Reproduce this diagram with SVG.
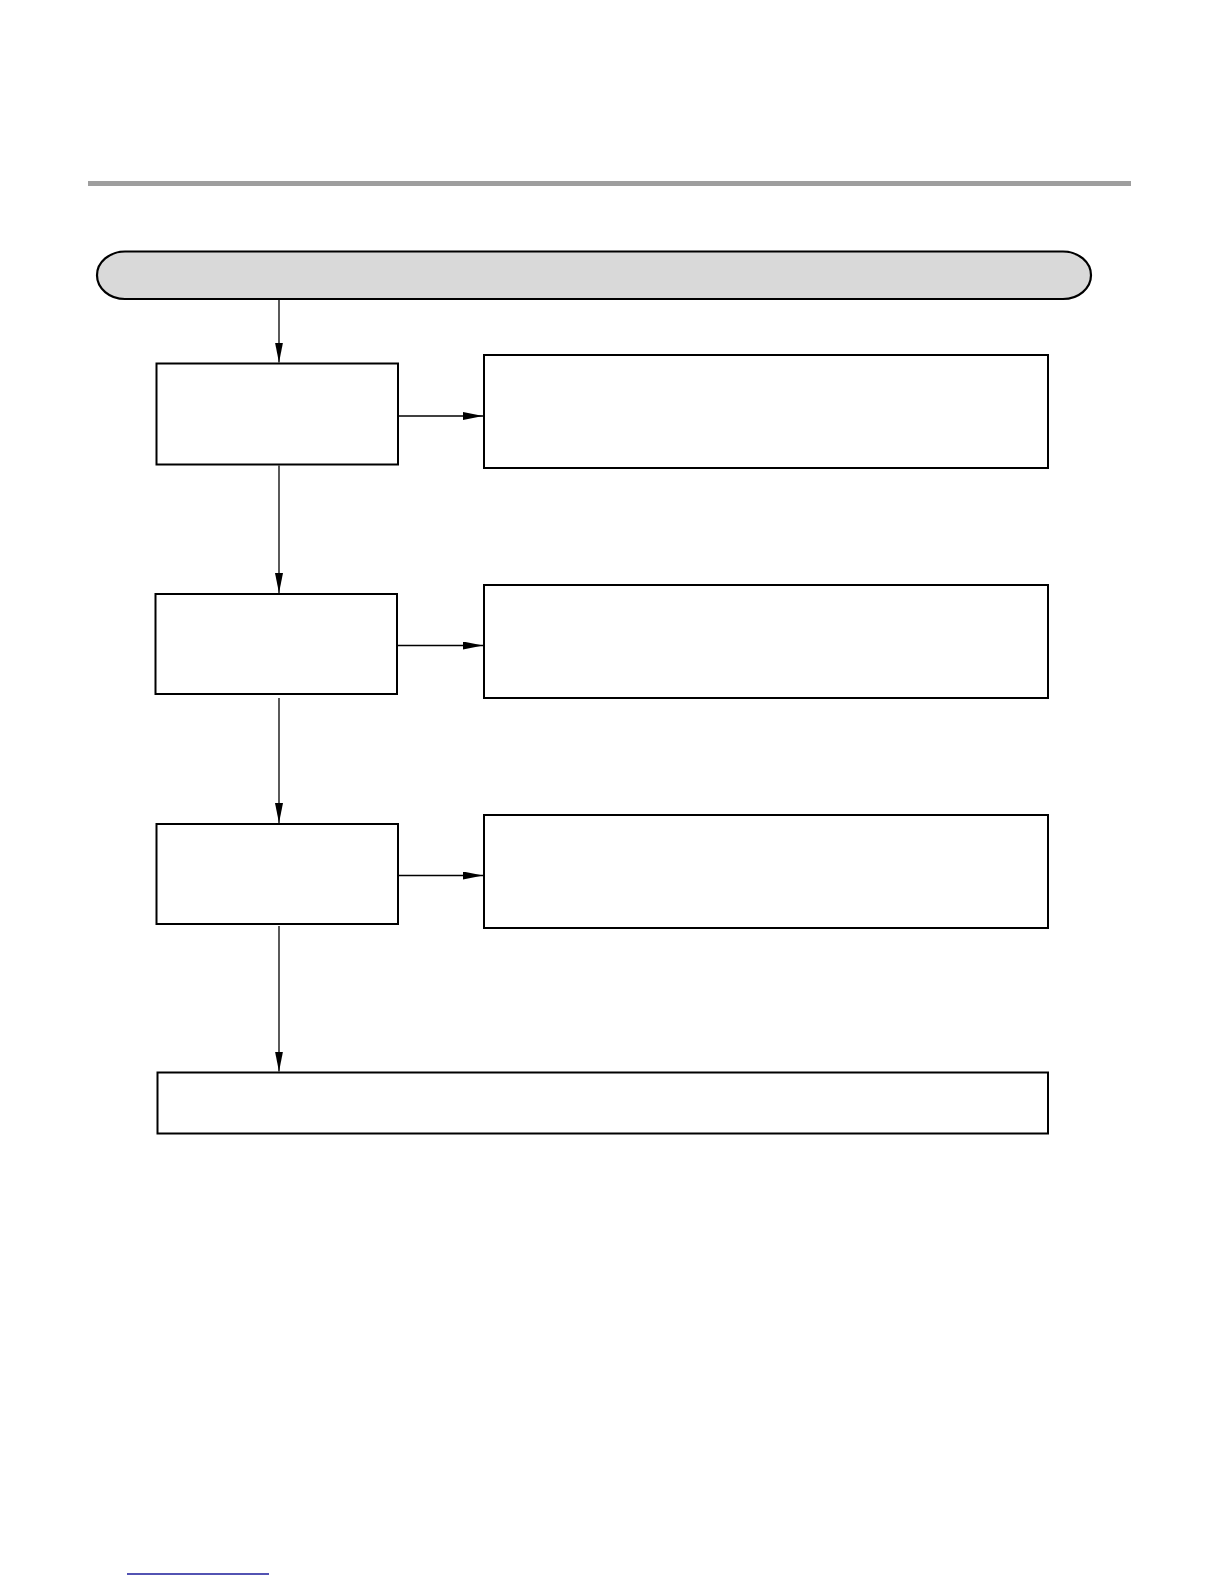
<svg xmlns="http://www.w3.org/2000/svg" width="1224" height="1584" viewBox="0 0 1224 1584">
  <style>
    .box { fill: #ffffff; stroke: #000000; stroke-width: 2; }
    .pill { fill: #d9d9d9; stroke: #000000; stroke-width: 2.2; }
    .conn { fill: none; stroke: #000000; stroke-width: 1.3; }
  </style>
  <defs>
    <marker id="arrow" markerWidth="20" markerHeight="8" refX="20" refY="4" orient="auto" markerUnits="userSpaceOnUse">
      <path d="M0,0 L20,4 L0,8 Z" fill="#000000"/>
    </marker>
  </defs>
  <rect width="1224" height="1584" fill="#ffffff"/>
  <rect id="header-rule" x="88" y="181" width="1043" height="5" fill="#9e9e9e"/>

  <g id="start">
    <rect class="pill" x="97" y="251.5" width="994" height="47.5" rx="28" ry="23.75"/>
  </g>
  <g id="step1">
    <rect class="box" x="156.5" y="363.5" width="241.5" height="101"/>
  </g>
  <g id="result1">
    <rect class="box" x="484" y="355" width="564" height="113"/>
  </g>
  <g id="step2">
    <rect class="box" x="155.5" y="594" width="241.5" height="100"/>
  </g>
  <g id="result2">
    <rect class="box" x="484" y="585" width="564" height="113"/>
  </g>
  <g id="step3">
    <rect class="box" x="156.5" y="824" width="241.5" height="100"/>
  </g>
  <g id="result3">
    <rect class="box" x="484" y="815" width="564" height="113"/>
  </g>
  <g id="end">
    <rect class="box" x="157.5" y="1072.5" width="890.5" height="61"/>
  </g>

  <g id="connectors">
    <line class="conn" x1="279" y1="300" x2="279" y2="362.5" marker-end="url(#arrow)"/>
    <line class="conn" x1="398" y1="416" x2="483" y2="416" marker-end="url(#arrow)"/>
    <line class="conn" x1="279" y1="465.5" x2="279" y2="593" marker-end="url(#arrow)"/>
    <line class="conn" x1="397" y1="645.5" x2="483" y2="645.5" marker-end="url(#arrow)"/>
    <line class="conn" x1="279" y1="698" x2="279" y2="823" marker-end="url(#arrow)"/>
    <line class="conn" x1="398" y1="875.5" x2="483" y2="875.5" marker-end="url(#arrow)"/>
    <line class="conn" x1="279" y1="926" x2="279" y2="1071.5" marker-end="url(#arrow)"/>
  </g>

  <line id="footer-line" x1="127" y1="1574" x2="269" y2="1574" stroke="#1a1a9a" stroke-width="1.5"/>
</svg>
